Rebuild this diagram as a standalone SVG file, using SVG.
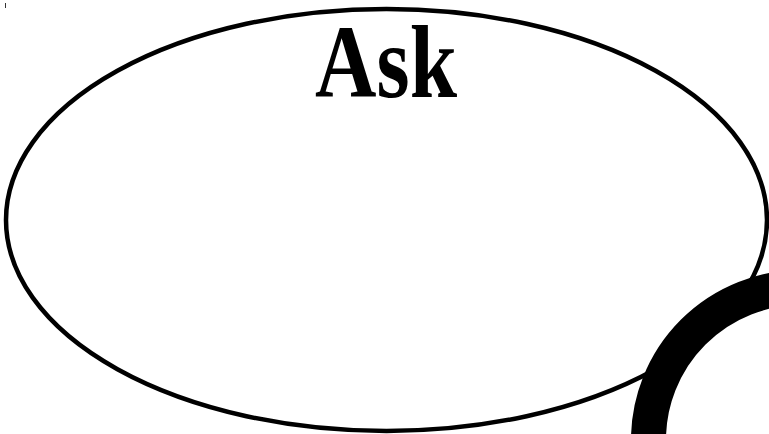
<svg xmlns="http://www.w3.org/2000/svg" width="769" height="434" viewBox="0 0 769 434">
<style>
.outline{fill:none;stroke:#000;stroke-width:4.5}
.ring{fill:none;stroke:#000;stroke-width:35}
.title{font-family:"Liberation Serif","DejaVu Serif",serif;font-size:104px;font-weight:bold;fill:#000}
</style>
<rect width="769" height="434" fill="#fff"/>
<line x1="5.5" y1="3" x2="5.5" y2="8" stroke="#333" stroke-width="1"/>
<g id="ask-node">
<ellipse class="outline" cx="386.5" cy="220" rx="380.5" ry="211"/>
<text class="title" x="386" y="97" text-anchor="middle" textLength="142" lengthAdjust="spacingAndGlyphs">Ask</text>
</g>
<g id="ring-node">
<circle class="ring" cx="801" cy="440" r="152.5"/>
</g>
<g id="connectors"></g>
</svg>
